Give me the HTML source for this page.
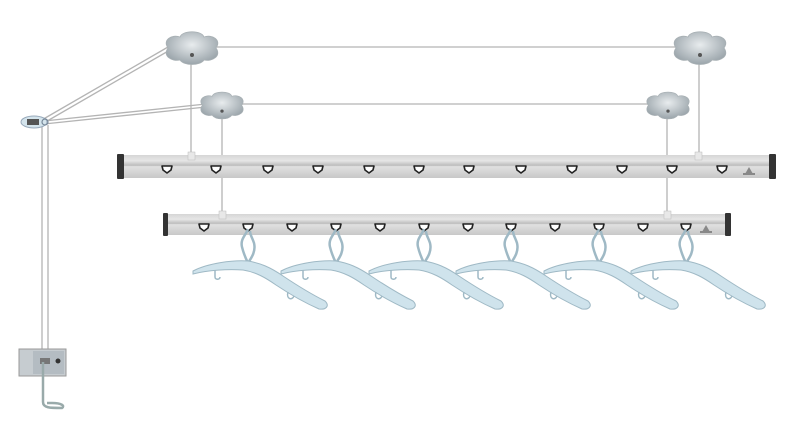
<!DOCTYPE html>
<html><head><meta charset="utf-8"><style>
html,body{margin:0;padding:0;background:#fff;width:800px;height:432px;overflow:hidden}
</style></head><body>
<svg width="800" height="432" viewBox="0 0 800 432" xmlns="http://www.w3.org/2000/svg">
<defs>
<linearGradient id="bar" x1="0" y1="0" x2="0" y2="1">
<stop offset="0" stop-color="#d6d6d6"/><stop offset="0.25" stop-color="#e6e6e6"/><stop offset="0.45" stop-color="#bcbcbc"/><stop offset="0.5" stop-color="#e0e0e0"/><stop offset="1" stop-color="#c8c8c8"/>
</linearGradient>
<radialGradient id="fl" cx="0.5" cy="0.4" r="0.6">
<stop offset="0" stop-color="#e8ecee"/><stop offset="1" stop-color="#9aa4aa"/>
</radialGradient>
<g id="flower">
<path d="M-24,-2 C-30,-10 -20,-16 -12,-13 C-10,-20 10,-20 12,-13 C20,-16 30,-10 24,-2 C30,6 20,12 12,10 C8,16 -8,16 -12,10 C-20,12 -30,6 -24,-2Z" fill="url(#fl)" stroke="#a8b0b4" stroke-width="0.8"/>
<circle cx="0" cy="5" r="2" fill="#555"/>
</g>
<g id="hole"><path d="M-5,-3 L5,-3 L4,1 L0,4 L-4,1Z" fill="#fff" stroke="#222" stroke-width="1.6" stroke-linejoin="round"/></g>
<g id="hanger" fill="#cfe3ec" stroke="#9fb9c5" stroke-width="1">
<path d="M0,0 C-2,6 -8,10 -6,18 C-4,26 -2,30 0,34 C4,28 8,22 6,14 C4,8 2,6 2,2" fill="none" stroke="#9fb9c5" stroke-width="2.5"/>
<path d="M-55,42 C-40,34 -15,31 0,32 C12,34 22,38 35,47 C50,57 65,66 77,72 C82,77 78,81 71,80 C55,73 40,64 28,56 C18,49 8,43 -5,41 C-20,40 -40,41 -55,45Z"/>
<path d="M-33,41 L-33,48 C-33,51 -28,51 -28,48" fill="none" stroke="#9fb9c5" stroke-width="1.5"/>
<path d="M40,63 C38,70 44,72 46,67" fill="none" stroke="#9fb9c5" stroke-width="1.5"/>
</g>
</defs>
<g stroke="#b4b4b4" stroke-width="1.3" fill="none">
<line x1="191" y1="47" x2="699" y2="47"/>
<line x1="222" y1="104" x2="668" y2="104"/>
<line x1="191" y1="56" x2="191" y2="158"/>
<line x1="222" y1="112" x2="222" y2="216"/>
<line x1="699" y1="56" x2="699" y2="158"/>
<line x1="667" y1="112" x2="667" y2="216"/>
<line x1="40" y1="121" x2="168" y2="47"/>
<line x1="42" y1="124" x2="170" y2="50"/>
<line x1="44" y1="121" x2="206" y2="104"/>
<line x1="44" y1="124" x2="206" y2="107"/>
<line x1="42" y1="125" x2="42" y2="352"/>
<line x1="48" y1="125" x2="48" y2="352"/>
</g>
<use href="#flower" x="192" y="50"/>
<use href="#flower" x="700" y="50"/>
<g transform="translate(222,107) scale(0.82)"><use href="#flower"/></g>
<g transform="translate(668,107) scale(0.82)"><use href="#flower"/></g>
<ellipse cx="34" cy="122" rx="13" ry="6" fill="#d4e4ec" stroke="#9ab" stroke-width="1"/>
<rect x="27" y="119" width="12" height="6" fill="#555"/>
<circle cx="45" cy="122" r="3" fill="none" stroke="#789" stroke-width="1.2"/>
<rect x="19" y="349" width="47" height="27" fill="#c6ccd0" stroke="#999" stroke-width="1"/>
<rect x="33" y="351" width="31" height="23" fill="#b4bcc2"/>
<circle cx="58" cy="361" r="2.5" fill="#333"/>
<rect x="40" y="358" width="10" height="6" fill="#777"/>
<path d="M43,362 L43,402 C43,408 50,408 62,408 C65,406 62,403 52,403 L47,403" fill="none" stroke="#9aa" stroke-width="2.5"/>
<rect x="121" y="155" width="651" height="23" fill="url(#bar)"/>
<rect x="117" y="154" width="7" height="25" fill="#333" rx="1"/>
<rect x="769" y="154" width="7" height="25" fill="#333" rx="1"/>
<rect x="188" y="152" width="7" height="8" fill="#e8e8e8" stroke="#bbb" stroke-width="0.5"/>
<rect x="695" y="152" width="7" height="8" fill="#e8e8e8" stroke="#bbb" stroke-width="0.5"/>
<g>
<use href="#hole" x="167" y="169"/><use href="#hole" x="216" y="169"/><use href="#hole" x="268" y="169"/>
<use href="#hole" x="318" y="169"/><use href="#hole" x="369" y="169"/><use href="#hole" x="419" y="169"/>
<use href="#hole" x="469" y="169"/><use href="#hole" x="521" y="169"/><use href="#hole" x="572" y="169"/>
<use href="#hole" x="622" y="169"/><use href="#hole" x="672" y="169"/><use href="#hole" x="722" y="169"/>
</g>
<path d="M745,174 L749,167 L753,174Z" fill="#888"/><rect x="743" y="173" width="12" height="2" fill="#888"/>
<rect x="166" y="214" width="562" height="21" fill="url(#bar)"/>
<rect x="163" y="213" width="5" height="23" fill="#333" rx="1"/>
<rect x="725" y="213" width="6" height="23" fill="#333" rx="1"/>
<rect x="219" y="211" width="7" height="8" fill="#e8e8e8" stroke="#bbb" stroke-width="0.5"/>
<rect x="664" y="211" width="7" height="8" fill="#e8e8e8" stroke="#bbb" stroke-width="0.5"/>
<g>
<use href="#hole" x="204" y="227"/><use href="#hole" x="248" y="227"/><use href="#hole" x="292" y="227"/>
<use href="#hole" x="336" y="227"/><use href="#hole" x="380" y="227"/><use href="#hole" x="424" y="227"/>
<use href="#hole" x="468" y="227"/><use href="#hole" x="511" y="227"/><use href="#hole" x="555" y="227"/>
<use href="#hole" x="599" y="227"/><use href="#hole" x="643" y="227"/><use href="#hole" x="686" y="227"/>
</g>
<path d="M702,232 L706,225 L710,232Z" fill="#888"/><rect x="700" y="231" width="12" height="2" fill="#888"/>
<use href="#hanger" x="248" y="229"/>
<use href="#hanger" x="336" y="229"/>
<use href="#hanger" x="424" y="229"/>
<use href="#hanger" x="511" y="229"/>
<use href="#hanger" x="599" y="229"/>
<use href="#hanger" x="686" y="229"/>
</svg>
</body></html>
